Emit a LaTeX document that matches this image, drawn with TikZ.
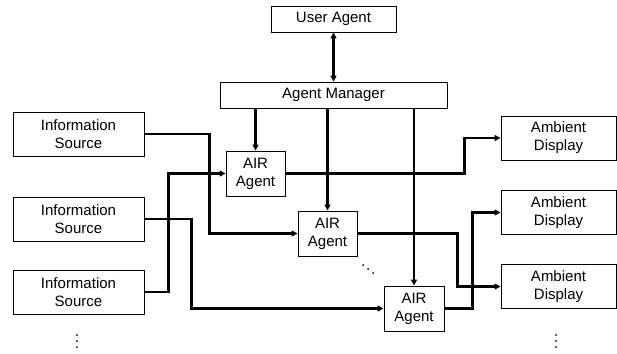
\documentclass[tikz,border=0pt]{standalone}
\usepackage{fontspec}
\setmainfont{Liberation Sans}
\usetikzlibrary{arrows.meta}
\begin{document}
\begin{tikzpicture}[x=1pt,y=-1pt,
  box/.style={draw=black,line width=0.9pt,fill=white,inner sep=0pt,align=center,
    font=\fontsize{15}{18}\selectfont},
  wide/.style={box,minimum height=26pt},
  src/.style={box,minimum width=131pt,minimum height=44pt},
  air/.style={box,minimum width=59pt,minimum height=45pt},
  disp/.style={box,minimum width=115pt,minimum height=44pt},
  conn/.style={line width=2.1pt,-{Triangle[length=6pt,width=6pt]}},
  dot/.style={fill=black}]
\useasboundingbox (0,0) rectangle (617,353);
\node[wide,minimum width=125pt] (ua) at (333.5,19) {User Agent};
\node[wide,minimum width=227pt] (am) at (333.5,95) {Agent Manager};
\node[src] (is1) at (78.5,134) {Information\\Source};
\node[src] (is2) at (78.5,219) {Information\\Source};
\node[src] (is3) at (78.5,292) {Information\\Source};
\node[air] (air1) at (255.5,173.5) {AIR\\Agent};
\node[air] (air2) at (327.5,233.5) {AIR\\Agent};
\node[air,minimum width=60pt] (air3) at (414,308.5) {AIR\\Agent};
\node[disp] (ad1) at (558.5,138) {Ambient\\Display};
\node[disp] (ad2) at (558.5,212.5) {Ambient\\Display};
\node[disp] (ad3) at (558.5,286.5) {Ambient\\Display};
% connectors
\draw[conn,{Triangle[length=6pt,width=6pt]}-{Triangle[length=6pt,width=6pt]}] (ua.south) -- (am.north);
\draw[conn] (air1.north |- am.south) -- (air1.north);
\draw[conn] (air2.north |- am.south) -- (air2.north);
\draw[conn] (air3.north |- am.south) -- (air3.north);
\draw[conn] (is1.east) -- ++(65,0) |- (air2.west);
\draw[conn] (is2.east) -- ++(47,0) |- (air3.west);
\draw[conn] (is3.east) -- ++(24,0) |- (air1.west);
\draw[conn] (air1.east) -- ++(179,0) |- (ad1.west);
\draw[conn] (air2.east) -- ++(100,0) |- (ad3.west);
\draw[conn] (air3.east) -- ++(28,0) |- (ad2.west);
% ellipses
\foreach \yy in {335,341,347} {
  \fill[dot] (77,\yy) circle (1pt);
  \fill[dot] (556,\yy) circle (1pt);
}
\foreach \xx/\yy in {363/265,368/269,373/273} {
  \fill[dot] (\xx,\yy) circle (1pt);
}
\end{tikzpicture}
\end{document}
